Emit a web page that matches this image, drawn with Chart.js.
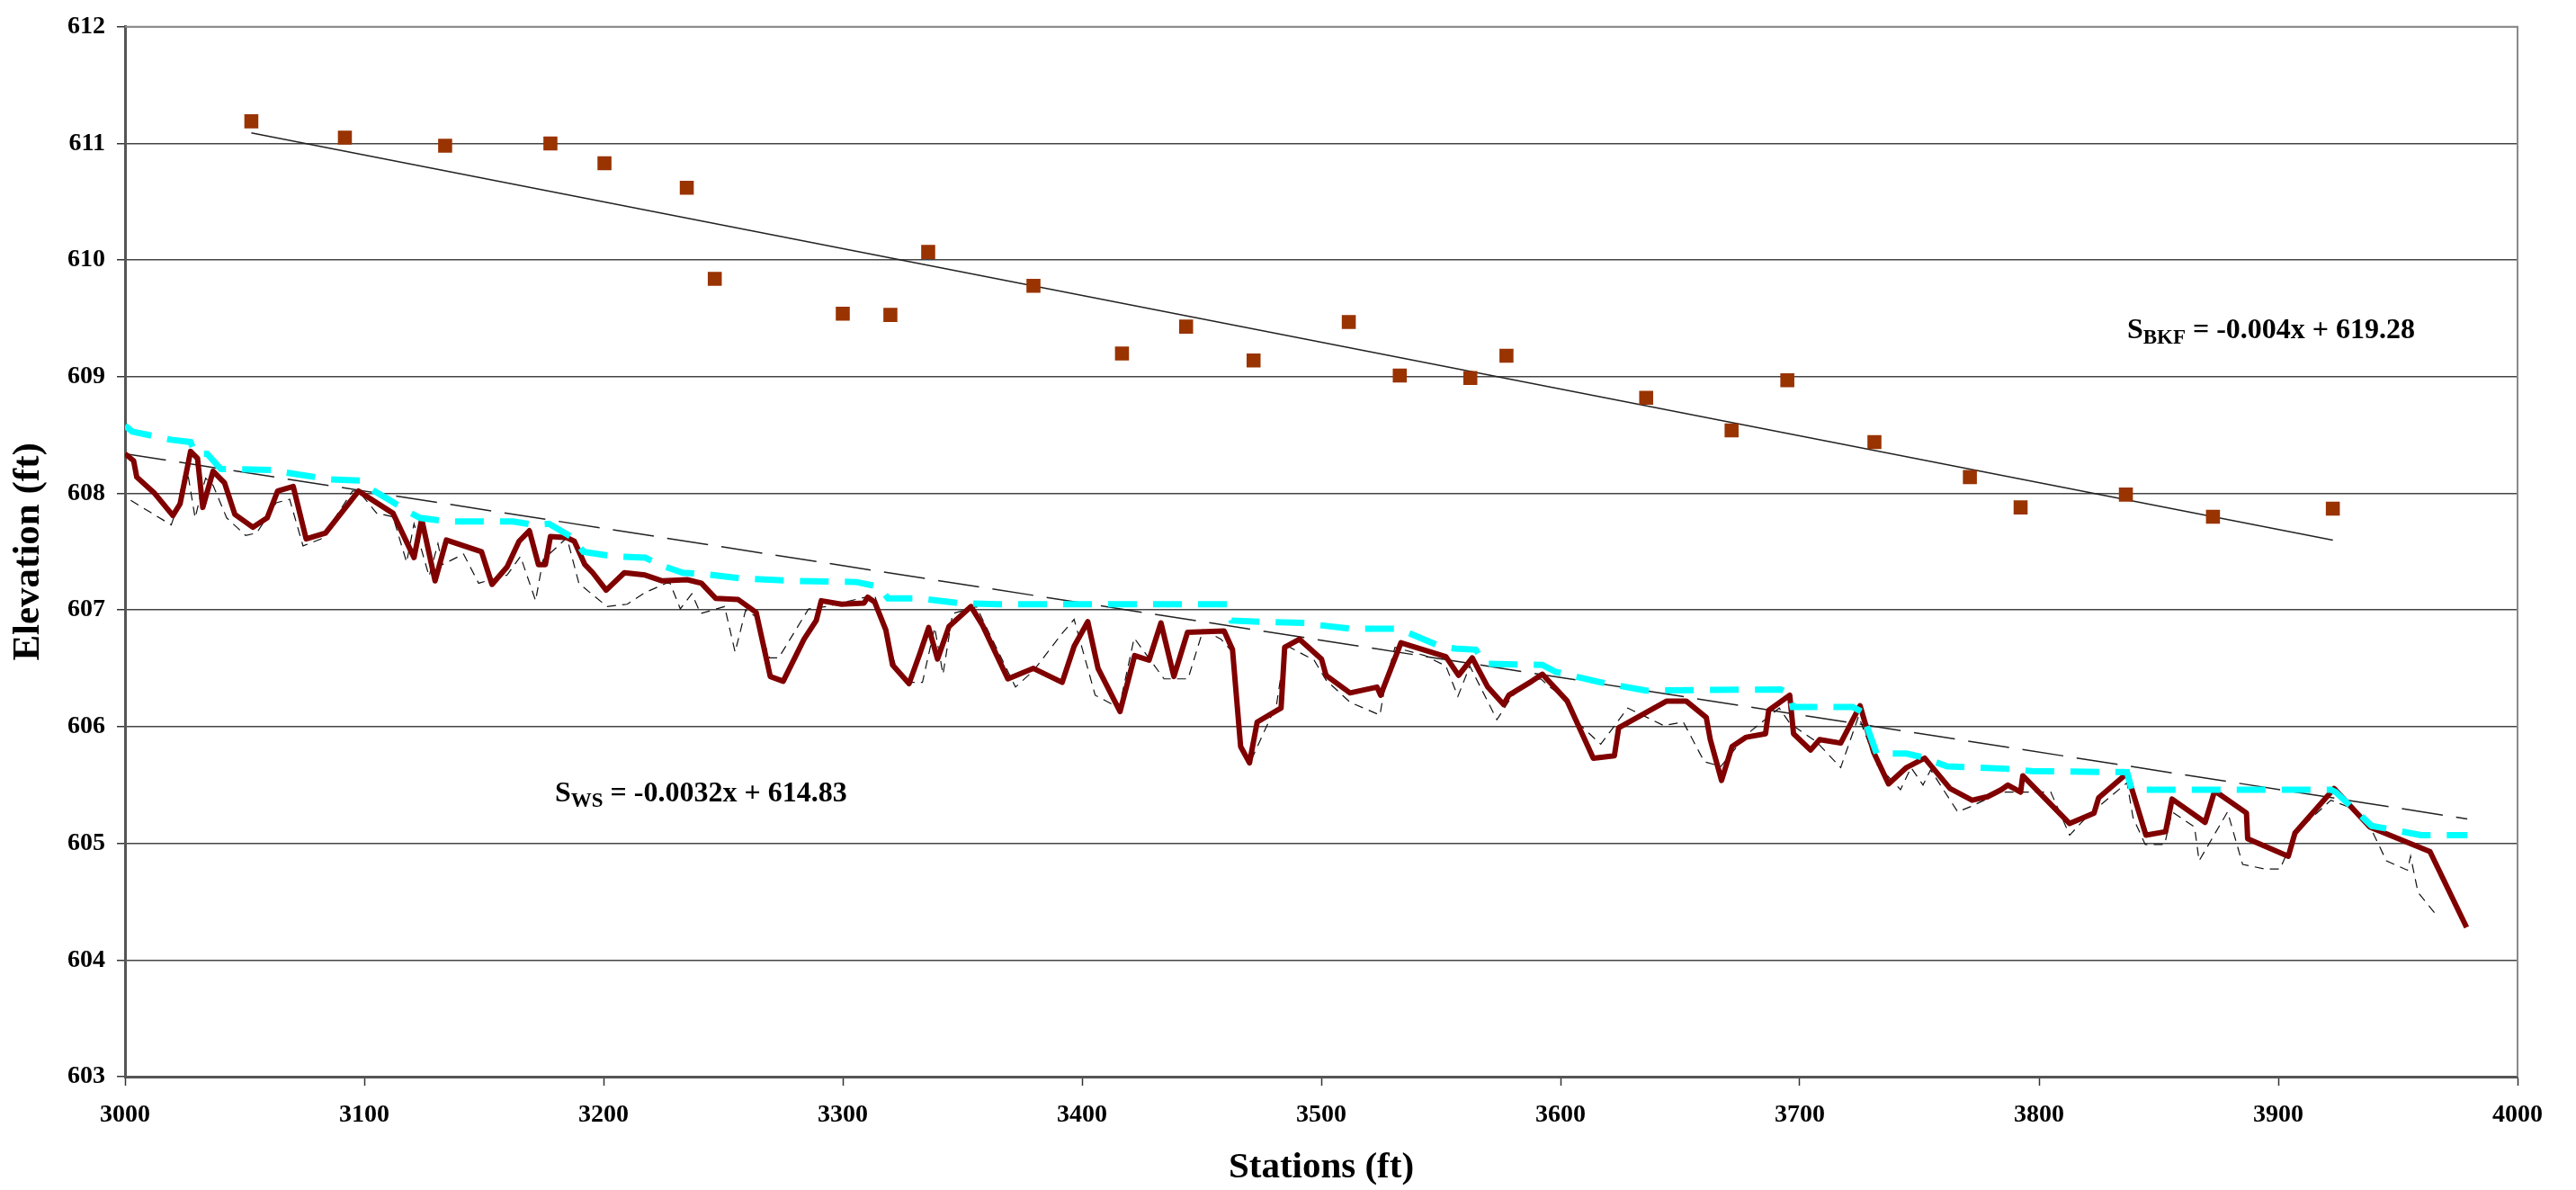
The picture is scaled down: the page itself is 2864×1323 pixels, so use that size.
<!DOCTYPE html>
<html>
<head>
<meta charset="utf-8">
<title>Profile</title>
<script src="https://cdn.jsdelivr.net/npm/chart.js@4/dist/chart.umd.min.js"></script>
<style>
  html, body { margin: 0; padding: 0; background: #fff; }
  #profileChart { display: block; }
</style>
</head>
<body>
<canvas id="profileChart" width="2864" height="1323"></canvas>
<script>
// Bankfull indicators (squares)
const bkfStations = [3052.8, 3091.9, 3133.8, 3177.8, 3200.4, 3234.8, 3246.5, 3300.0, 3319.9, 3335.7,
  3379.7, 3416.7, 3443.5, 3471.7, 3511.5, 3532.8, 3562.3, 3577.4, 3635.8, 3671.5,
  3694.8, 3731.2, 3771.1, 3792.3, 3836.3, 3872.7, 3922.8];
const bkfElev = [611.19, 611.05, 610.98, 611.00, 610.83, 610.62, 609.84, 609.54, 609.53, 610.07,
  609.78, 609.20, 609.43, 609.14, 609.47, 609.01, 608.99, 609.18, 608.82, 608.54,
  608.97, 608.44, 608.14, 607.88, 607.99, 607.80, 607.87];

// Water surface (dark red)
const wsStations = [3000, 3003.6, 3004.9, 3012.4, 3020, 3023, 3027.4, 3030.3, 3032.5, 3036.8,
  3041.6, 3045.9, 3053.4, 3059.4, 3063.8, 3070.3, 3075.7, 3083.8, 3097.6, 3112,
  3120.8, 3124, 3129.6, 3134.3, 3149, 3153.4, 3159.7, 3164.7, 3169, 3172.8,
  3175.7, 3177.8, 3184.7, 3187.8, 3192.2, 3195.5, 3201.1, 3208.7, 3217.4, 3224.6,
  3235, 3240.9, 3246.9, 3256.3, 3263.8, 3269.7, 3275.1, 3283.8, 3288.9, 3291,
  3299.5, 3308.9, 3310.4, 3313.3, 3318, 3320.8, 3327.7, 3332.1, 3335.9, 3339.6,
  3344.4, 3353.6, 3358.4, 3369, 3379.7, 3391.7, 3396.7, 3402.4, 3406.7, 3415.9,
  3422, 3428, 3433, 3438.4, 3444.1, 3459.4, 3462.9, 3466.3, 3470, 3473.2,
  3483.2, 3484.7, 3490.9, 3500.1, 3502, 3512, 3523.3, 3524.8, 3533.3, 3552.1,
  3557.4, 3563.1, 3569.6, 3576.2, 3578.4, 3588, 3592.4, 3602.8, 3613.7, 3622.5,
  3624.3, 3644.4, 3652.5, 3660.9, 3662.6, 3667.3, 3671.7, 3677.6, 3685.7, 3687,
  3695.8, 3697.4, 3704.5, 3708.3, 3717.1, 3725.2, 3730.9, 3737.1, 3744.6, 3752.2,
  3762.8, 3772, 3778.5, 3784.2, 3787, 3792.3, 3793.2, 3812.8, 3823, 3824.9,
  3836.8, 3844.7, 3852.9, 3855.6, 3869.4, 3873.4, 3886.7, 3887.2, 3904.2, 3907,
  3923.3, 3938.3, 3963.4, 3978.7];
const wsElev = [608.34, 608.28, 608.14, 608.00, 607.81, 607.91, 608.36, 608.30, 607.88, 608.19,
  608.09, 607.82, 607.71, 607.79, 608.02, 608.06, 607.61, 607.66, 608.02, 607.83,
  607.45, 607.78, 607.25, 607.60, 607.50, 607.22, 607.37, 607.59, 607.68, 607.39,
  607.39, 607.63, 607.62, 607.59, 607.39, 607.32, 607.17, 607.32, 607.30, 607.25,
  607.26, 607.23, 607.10, 607.09, 606.98, 606.43, 606.39, 606.75, 606.91, 607.08,
  607.05, 607.06, 607.11, 607.07, 606.83, 606.53, 606.37, 606.62, 606.85, 606.58,
  606.86, 607.03, 606.87, 606.41, 606.50, 606.38, 606.69, 606.90, 606.50, 606.13,
  606.61, 606.57, 606.89, 606.43, 606.81, 606.82, 606.66, 605.83, 605.69, 606.04,
  606.16, 606.68, 606.75, 606.58, 606.44, 606.29, 606.34, 606.27, 606.72, 606.60,
  606.44, 606.59, 606.34, 606.19, 606.27, 606.39, 606.45, 606.22, 605.73, 605.75,
  605.99, 606.22, 606.22, 606.08, 605.89, 605.54, 605.83, 605.91, 605.94, 606.14,
  606.27, 605.94, 605.80, 605.89, 605.86, 606.18, 605.78, 605.51, 605.65, 605.73,
  605.47, 605.37, 605.40, 605.46, 605.50, 605.44, 605.58, 605.17, 605.26, 605.39,
  605.60, 605.07, 605.10, 605.38, 605.18, 605.45, 605.26, 605.04, 604.89, 605.09,
  605.47, 605.14, 604.93, 604.28];

// Second survey (thin black dashes)
const ws2Stations = [3002.4, 3019.3, 3022, 3025.6, 3029.3, 3031.2, 3033.7, 3036.8, 3042.5, 3050.4,
  3055, 3063.2, 3068.8, 3074.4, 3082, 3095.1, 3097.6, 3105.2, 3112, 3117.7,
  3120.8, 3127.1, 3130.8, 3132.7, 3141.5, 3147.8, 3159.7, 3165.3, 3171.6, 3174.7,
  3184.7, 3189.7, 3195.5, 3201.5, 3209.9, 3217.4, 3226.2, 3227.8, 3232.1, 3236.9,
  3240.6, 3250.6, 3255, 3259.4, 3263.2, 3269.4, 3273.2, 3285.7, 3293.2, 3313.3,
  3322.1, 3325.8, 3333.3, 3338.4, 3341.9, 3345.9, 3355.9, 3358.4, 3372.2, 3379.7,
  3391.7, 3396.7, 3405.5, 3415.5, 3421.8, 3434.3, 3444.3, 3450.6, 3458.1, 3462.9,
  3466.6, 3470.4, 3481.3, 3485.1, 3497, 3502, 3512, 3524.5, 3527, 3530.8,
  3543.3, 3552.1, 3557.1, 3562.1, 3573.4, 3579.7, 3588, 3591.8, 3595.5, 3602.4,
  3607.4, 3616.8, 3628.1, 3643.1, 3651.3, 3660.1, 3667, 3678.2, 3691.4, 3695.8,
  3707, 3717.1, 3724.6, 3732.1, 3742.1, 3746.5, 3751.5, 3754.7, 3766, 3772,
  3784.2, 3804.9, 3812.8, 3820.5, 3836.8, 3839.3, 3844.4, 3852.5, 3855.6, 3865,
  3866.9, 3878.8, 3885.1, 3894.5, 3900.7, 3907.6, 3922, 3929.6, 3937.7, 3945.2,
  3954, 3955.3, 3958.4, 3965.9];
const ws2Elev = [607.94, 607.73, 607.89, 608.25, 607.79, 607.95, 608.13, 608.07, 607.79, 607.64,
  607.66, 607.92, 607.95, 607.55, 607.61, 608.02, 608.02, 607.83, 607.80, 607.41,
  607.74, 607.29, 607.57, 607.39, 607.48, 607.23, 607.30, 607.46, 607.08, 607.43,
  607.62, 607.23, 607.13, 607.03, 607.05, 607.15, 607.23, 607.23, 607.01, 607.14,
  606.97, 607.03, 606.64, 607.00, 606.95, 606.59, 606.59, 607.01, 607.03, 607.13,
  606.52, 606.38, 606.38, 606.85, 606.45, 606.97, 607.03, 606.92, 606.34, 606.48,
  606.80, 606.92, 606.27, 606.16, 606.76, 606.41, 606.41, 606.83, 606.75, 606.64,
  605.85, 605.70, 606.19, 606.70, 606.57, 606.40, 606.21, 606.10, 606.39, 606.68,
  606.61, 606.52, 606.26, 606.52, 606.06, 606.26, 606.40, 606.41, 606.34, 606.24,
  606.03, 605.85, 606.16, 606.01, 606.04, 605.70, 605.66, 605.94, 606.16, 606.03,
  605.87, 605.65, 606.09, 605.68, 605.46, 605.65, 605.50, 605.63, 605.27, 605.32,
  605.44, 605.44, 605.07, 605.24, 605.52, 605.22, 604.99, 604.99, 605.27, 605.14,
  604.85, 605.27, 604.82, 604.78, 604.78, 605.10, 605.37, 605.31, 605.17, 604.85,
  604.77, 604.89, 604.58, 604.39];

// Stepped profile (cyan dashes)
const stepStations = [3000, 3003, 3019.3, 3027.4, 3029.3, 3034.3, 3040, 3064.4, 3067, 3085.7,
  3098.2, 3102.6, 3110.8, 3119.6, 3123.3, 3134.6, 3162.2, 3171, 3177.2, 3187.2,
  3191.6, 3204.3, 3217.4, 3223.1, 3233.1, 3241.9, 3258.2, 3280.7, 3305.8, 3315.2,
  3318.9, 3331.5, 3348.4, 3364.7, 3460.6, 3462.5, 3474.4, 3493.2, 3499.5, 3512.6,
  3532, 3537, 3549.6, 3555.9, 3564.6, 3565.9, 3568.4, 3592.4, 3598, 3616.8,
  3635.6, 3692, 3695.8, 3697, 3722.1, 3725.8, 3730.2, 3732.1, 3744.6, 3750.9,
  3761.6, 3786, 3796.7, 3836.8, 3838.7, 3922, 3924, 3939, 3947.1, 3959.6,
  3979];
const stepElev = [608.58, 608.53, 608.46, 608.44, 608.34, 608.34, 608.21, 608.20, 608.18, 608.12,
  608.11, 608.04, 607.94, 607.83, 607.79, 607.76, 607.76, 607.73, 607.74, 607.62,
  607.50, 607.46, 607.45, 607.39, 607.32, 607.31, 607.27, 607.25, 607.24, 607.20,
  607.10, 607.10, 607.06, 607.05, 607.05, 606.91, 606.90, 606.89, 606.87, 606.84,
  606.84, 606.80, 606.69, 606.67, 606.66, 606.62, 606.54, 606.53, 606.47, 606.38,
  606.31, 606.32, 606.28, 606.17, 606.17, 606.13, 605.88, 605.77, 605.77, 605.74,
  605.66, 605.64, 605.62, 605.61, 605.46, 605.46, 605.44, 605.15, 605.12, 605.07,
  605.07];

// Trend lines (end points as drawn)
const bkfTrendStations = [3052.8, 3922.8];
const bkfTrendElev = [611.09, 607.60];
const wsTrendStations = [3000, 3979];
const wsTrendElev = [608.34, 605.21];

// Axis ticks
const xTicks = [3000, 3100, 3200, 3300, 3400, 3500, 3600, 3700, 3800, 3900, 4000];
const yTicks = [603, 604, 605, 606, 607, 608, 609, 610, 611, 612];

const pts = (xs, ys) => xs.map((x, i) => ({ x: x, y: ys[i] }));

const serif = "'Liberation Serif', 'Times New Roman', serif";

// Right/top frame and the two slope equations
const extras = {
  id: "extras",
  afterDraw(chart) {
    const { ctx, chartArea: a, scales } = chart;
    ctx.save();
    ctx.strokeStyle = "#8a8a8a";
    ctx.lineWidth = 2;
    ctx.beginPath();
    ctx.moveTo(a.left, a.top);
    ctx.lineTo(a.right, a.top);
    ctx.lineTo(a.right, a.bottom);
    ctx.stroke();

    ctx.fillStyle = "#000";
    ctx.textBaseline = "alphabetic";
    ctx.textAlign = "left";
    const eq = (st, el, sub, rest) => {
      const px = scales.x.getPixelForValue(st);
      const py = scales.y.getPixelForValue(el);
      ctx.font = "bold 32px " + serif;
      ctx.fillText("S", px, py);
      let w = ctx.measureText("S").width;
      ctx.font = "bold 23px " + serif;
      ctx.fillText(sub, px + w, py + 6);
      w += ctx.measureText(sub).width;
      ctx.font = "bold 32px " + serif;
      ctx.fillText(rest, px + w, py);
    };
    eq(3836.8, 609.33, "BKF", " = -0.004x + 619.28");
    eq(3179.7, 605.36, "WS", " = -0.0032x + 614.83");
    ctx.restore();
  }
};

const ctx = document.getElementById("profileChart").getContext("2d");
const chart = new Chart(ctx, {
  type: "scatter",
  data: {
    datasets: [
      {
        label: "Bankfull",
        data: pts(bkfStations, bkfElev),
        showLine: false,
        pointStyle: "rect",
        pointRadius: 11,
        backgroundColor: "#993300",
        borderColor: "#993300",
        borderWidth: 0,
        order: 0
      },
      {
        label: "Stepped WS",
        data: pts(stepStations, stepElev),
        showLine: true,
        borderColor: "#00ffff",
        borderWidth: 7,
        borderDash: [32, 18],
        pointRadius: 0,
        tension: 0,
        order: 1
      },
      {
        label: "Water surface",
        data: pts(wsStations, wsElev),
        showLine: true,
        borderColor: "#800000",
        borderWidth: 6,
        borderJoinStyle: "round",
        pointRadius: 0,
        tension: 0,
        order: 2
      },
      {
        label: "Water surface 2",
        data: pts(ws2Stations, ws2Elev),
        showLine: true,
        borderColor: "#111",
        borderWidth: 1.2,
        borderDash: [10, 7],
        pointRadius: 0,
        tension: 0,
        order: 3
      },
      {
        label: "BKF trend",
        data: pts(bkfTrendStations, bkfTrendElev),
        showLine: true,
        borderColor: "#222",
        borderWidth: 1.5,
        pointRadius: 0,
        order: 4
      },
      {
        label: "WS trend",
        data: pts(wsTrendStations, wsTrendElev),
        showLine: true,
        borderColor: "#222",
        borderWidth: 1.5,
        borderDash: [46, 15],
        pointRadius: 0,
        order: 4
      }
    ]
  },
  options: {
    responsive: false,
    devicePixelRatio: 1,
    animation: false,
    events: [],
    layout: { padding: { top: 18, right: 65, left: 0, bottom: 0 } },
    plugins: {
      legend: { display: false },
      tooltip: { enabled: false }
    },
    scales: {
      x: {
        type: "linear",
        min: 3000,
        max: 4000,
        afterBuildTicks: s => { s.ticks = xTicks.map(v => ({ value: v })); },
        afterFit: s => { s.height = 126; },
        ticks: {
          color: "#000",
          font: { family: serif, size: 28, weight: "bold" },
          padding: 16,
          maxRotation: 0,
          callback: v => String(v)
        },
        grid: { drawOnChartArea: false, drawTicks: true, tickLength: 10, tickColor: "#333", tickWidth: 1.5 },
        border: { display: true, color: "#555", width: 3 },
        title: {
          display: true,
          text: "Stations (ft)",
          color: "#000",
          font: { family: serif, size: 41, weight: "bold" },
          padding: { top: 0, bottom: 0 }
        }
      },
      y: {
        type: "linear",
        min: 603,
        max: 612,
        afterBuildTicks: s => { s.ticks = yTicks.map(v => ({ value: v })); },
        afterFit: s => { s.width = 139; },
        ticks: {
          color: "#000",
          font: { family: serif, size: 28, weight: "bold" },
          padding: 13,
          callback: v => String(v)
        },
        grid: { color: "#444", lineWidth: 1.5, drawTicks: true, tickLength: 9, tickColor: "#333" },
        border: { display: true, color: "#555", width: 3 },
        title: {
          display: true,
          text: "Elevation (ft)",
          color: "#000",
          font: { family: serif, size: 43, weight: "bold" },
          padding: { top: 6, bottom: 0 }
        }
      }
    }
  },
  plugins: [extras]
});
</script>
</body>
</html>
